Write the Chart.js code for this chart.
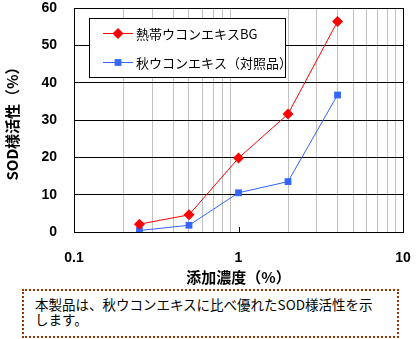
<!DOCTYPE html>
<html lang="ja">
<head>
<meta charset="UTF-8">
<title>SOD様活性</title>
<script src="https://cdn.jsdelivr.net/npm/chart.js"></script>
<style>
    body {
        margin: 0;
        width: 416px;
        height: 339px;
        background: #fff;
        position: relative;
        overflow: hidden;
        font-family: "Noto Sans CJK JP", sans-serif;
    }
    #chartBox {
        position: absolute;
        left: 0;
        top: 0;
    }
    #note {
        position: absolute;
        left: 22px;
        top: 289px;
        width: 377px;
        height: 49px;
        box-sizing: border-box;
        border: 2px dotted #993300;
        padding: 6px 0 0 11px;
        font-size: 13.5px;
        line-height: 15px;
        white-space: nowrap;
        color: #000;
    }
</style>
</head>
<body>
<div id="chartBox"><canvas id="chart" width="416" height="288"></canvas></div>
<div id="note">本製品は、秋ウコンエキスに比べ優れたSOD様活性を示<br>します。</div>

<script>
// data
const concentrations = [0.25, 0.5, 1, 2, 4];
const tropicalBG = [2.1, 4.6, 19.8, 31.6, 56.4];
const autumnRef = [0.4, 1.8, 10.5, 13.5, 36.7];
const seriesNames = ['熱帯ウコンエキスBG', '秋ウコンエキス（対照品）'];
const xTickValues = [0.1, 0.2, 0.3, 0.4, 0.5, 0.6, 0.7, 0.8, 0.9, 1, 2, 3, 4, 5, 6, 7, 8, 9, 10];
const xTickLabels = { 0.1: '0.1', 1: '1', 10: '10' };

const toPoints = (ys) => concentrations.map((x, i) => ({ x: x, y: ys[i] }));

// marker drawing used by the legend box
function marker(ctx, style, x, y, r, color) {
    ctx.fillStyle = color;
    ctx.beginPath();
    if (style === 'rectRot') {
        ctx.moveTo(x, y - r);
        ctx.lineTo(x + r, y);
        ctx.lineTo(x, y + r);
        ctx.lineTo(x - r, y);
        ctx.closePath();
    } else {
        const s = r * Math.SQRT1_2;
        ctx.rect(x - s, y - s, 2 * s, 2 * s);
    }
    ctx.fill();
}

const legendBox = {
    id: 'legendBox',
    afterDatasetsDraw(chart) {
        const ctx = chart.ctx;
        ctx.save();
        ctx.fillStyle = '#fff';
        ctx.fillRect(89, 18, 196, 59);
        ctx.strokeStyle = '#000';
        ctx.lineWidth = 1;
        ctx.strokeRect(89.5, 18.5, 196, 59);
        chart.data.datasets.forEach((ds, i) => {
            const y = 33 + i * 29;
            ctx.strokeStyle = ds.borderColor;
            ctx.beginPath();
            ctx.moveTo(103, y + 0.5);
            ctx.lineTo(133, y + 0.5);
            ctx.stroke();
            marker(ctx, ds.pointStyle, 118, y + 0.5, ds.pointRadius, ds.borderColor);
            ctx.fillStyle = '#000';
            ctx.font = '13px "Noto Sans CJK JP"';
            ctx.textBaseline = 'middle';
            ctx.fillText(ds.label, 136, y + 1);
        });
        ctx.restore();
    }
};

// small inner tick at x = 1 (no full gridline there)
const innerTick = {
    id: 'innerTick',
    afterDraw(chart) {
        const ctx = chart.ctx;
        const xs = chart.scales.x;
        const px = Math.round(xs.getPixelForValue(1)) + 0.5;
        const bottom = chart.chartArea.bottom;
        ctx.save();
        ctx.strokeStyle = '#000';
        ctx.lineWidth = 1;
        ctx.beginPath();
        ctx.moveTo(px, bottom);
        ctx.lineTo(px, bottom - 5);
        ctx.stroke();
        ctx.restore();
    }
};

new Chart(document.getElementById('chart'), {
    type: 'line',
    data: {
        datasets: [
            {
                label: seriesNames[0],
                data: toPoints(tropicalBG),
                borderColor: '#FF0000',
                backgroundColor: '#FF0000',
                borderWidth: 1,
                pointStyle: 'rectRot',
                pointRadius: 5.5,
                pointBorderWidth: 0
            },
            {
                label: seriesNames[1],
                data: toPoints(autumnRef),
                borderColor: '#3366FF',
                backgroundColor: '#3366FF',
                borderWidth: 1,
                pointStyle: 'rect',
                pointRadius: 4.8,
                pointBorderWidth: 0
            }
        ]
    },
    options: {
        responsive: false,
        animation: false,
        layout: { padding: { left: 0, top: 8, right: 13, bottom: 0 } },
        plugins: {
            legend: { display: false },
            tooltip: { enabled: false }
        },
        scales: {
            x: {
                type: 'logarithmic',
                min: 0.1,
                max: 10,
                afterBuildTicks: (scale) => {
                    scale.ticks = xTickValues.map(v => ({ value: v }));
                },
                afterFit: (scale) => {
                    scale.height = 56;
                    scale.paddingLeft = 0;
                    scale.paddingRight = 0;
                },
                grid: {
                    drawTicks: false,
                    color: (c) => {
                        const v = c.tick && c.tick.value;
                        if (v === 1) return 'rgba(0,0,0,0)';
                        if (v === 10) return '#000';
                        return '#C0C0C0';
                    }
                },
                border: { color: '#000', width: 1 },
                ticks: {
                    autoSkip: false,
                    maxRotation: 0,
                    padding: 18,
                    color: '#000',
                    font: { family: '"Liberation Sans", Arial', size: 14, weight: 'bold' },
                    callback: (v) => xTickLabels[v] || ''
                },
                title: {
                    display: true,
                    text: '添加濃度（%）',
                    color: '#000',
                    font: { family: '"Noto Sans CJK JP"', size: 15, weight: 'bold' },
                    padding: { top: 0, bottom: 2 }
                }
            },
            y: {
                min: 0,
                max: 60,
                afterFit: (scale) => {
                    scale.width = 74;
                    scale.paddingTop = 0;
                    scale.paddingBottom = 0;
                },
                grid: { drawTicks: false, color: '#000' },
                border: { color: '#000', width: 1 },
                ticks: {
                    stepSize: 10,
                    padding: 17,
                    color: '#000',
                    font: { family: '"Liberation Sans", Arial', size: 14, weight: 'bold' }
                },
                title: {
                    display: true,
                    text: 'SOD様活性（%）',
                    color: '#000',
                    font: { family: '"Noto Sans CJK JP"', size: 15, weight: 'bold' },
                    padding: { top: 3, bottom: 0 }
                }
            }
        }
    },
    plugins: [legendBox, innerTick]
});
</script>
</body>
</html>
